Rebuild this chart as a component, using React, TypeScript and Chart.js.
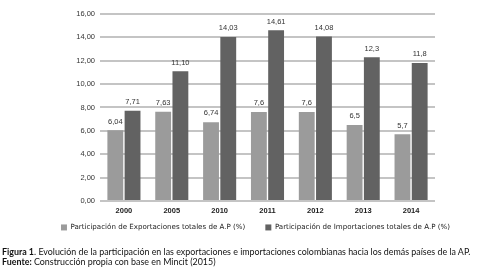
import React, { useEffect, useRef } from "react";
import { Chart, registerables } from "chart.js";

Chart.register(...registerables);

const categories = ["2000", "2005", "2010", "2011", "2012", "2013", "2014"];
const exportValues = [6.04, 7.63, 6.74, 7.6, 7.6, 6.5, 5.7];
const importValues = [7.71, 11.1, 14.03, 14.61, 14.08, 12.3, 11.8];
const exportLabels = ["6,04", "7,63", "6,74", "7,6", "7,6", "6,5", "5,7"];
const importLabels = ["7,71", "11,10", "14,03", "14,61", "14,08", "12,3", "11,8"];
const seriesNames = [
  "Participación de Exportaciones totales de A.P (%)",
  "Participación de Importaciones totales de A.P (%)",
];

const FONT = "'Liberation Sans', Arial, sans-serif";
const LEGEND_FONT = "'DejaVu Sans', Verdana, sans-serif";

const valueLabelPlugin = {
  id: "valueLabels",
  afterLayout(chart: any) {
    const lg = chart.legend;
    if (lg) {
      lg.top -= 15;
      lg.bottom -= 15;
    }
  },
  afterDatasetsDraw(chart: any) {
    const ctx = chart.ctx;
    const labelSets = [exportLabels, importLabels];
    ctx.save();
    ctx.font = `7.5px ${FONT}`;
    ctx.fillStyle = "#333";
    ctx.textAlign = "center";
    ctx.textBaseline = "bottom";
    chart.data.datasets.forEach((_ds: any, i: number) => {
      const meta = chart.getDatasetMeta(i);
      meta.data.forEach((bar: any, j: number) => {
        ctx.fillText(labelSets[i][j], bar.x, bar.y - 5);
      });
    });
    ctx.restore();
  },
};

export default function App() {
  const ref = useRef<HTMLCanvasElement>(null);
  useEffect(() => {
    document.body.style.margin = "0";
    const chart = new Chart(ref.current!, {
      type: "bar",
      data: {
        labels: categories,
        datasets: [
          {
            label: seriesNames[0],
            data: exportValues,
            backgroundColor: "#9b9b9b",
            categoryPercentage: 0.72,
            barPercentage: 0.92,
          },
          {
            label: seriesNames[1],
            data: importValues,
            backgroundColor: "#626262",
            categoryPercentage: 0.72,
            barPercentage: 0.92,
          },
        ],
      },
      options: {
        animation: false,
        responsive: false,
        layout: { padding: { left: 34, right: 0, top: 14, bottom: 22 } },
        plugins: {
          tooltip: { enabled: false },
          legend: {
            position: "bottom",
            labels: {
              boxWidth: 6,
              boxHeight: 6,
              padding: 20,
              color: "#222",
              font: { family: LEGEND_FONT, size: 7.1 },
            },
          },
        },
        scales: {
          x: {
            grid: { display: false, drawTicks: false },
            border: { display: false },
            ticks: {
              color: "#222",
              font: { family: FONT, size: 7.5, weight: "bold" },
              padding: 6,
            },
            afterFit(scale: any) {
              scale.height = 18;
            },
          },
          y: {
            min: 0,
            max: 16,
            grid: { color: "#c4c4c4", lineWidth: 2, drawTicks: false },
            border: { display: false },
            ticks: {
              stepSize: 2,
              padding: 5,
              color: "#333",
              font: { family: FONT, size: 7.5 },
              callback: (v: any) => Number(v).toFixed(2).replace(".", ","),
            },
            afterFit(scale: any) {
              scale.width = 66;
            },
          },
          yRight: {
            position: "right",
            min: 0,
            max: 16,
            grid: { display: false },
            border: { display: false },
            ticks: { display: false },
            afterFit(scale: any) {
              scale.width = 42;
            },
          },
        },
      },
      plugins: [valueLabelPlugin],
    });
    return () => chart.destroy();
  }, []);

  const cap: React.CSSProperties = {
    position: "absolute",
    left: 2,
    fontFamily: "Lato, sans-serif",
    fontSize: 8.9,
    color: "#111",
    whiteSpace: "nowrap",
    lineHeight: "10px",
  };
  return (
    <div style={{ position: "relative", width: 477, height: 278, background: "#fff" }}>
      <canvas ref={ref} width={477} height={278} style={{ display: "block" }} />
      <div style={{ ...cap, top: 247 }}>
        <b>Figura 1</b>. Evolución de la participación en las exportaciones e importaciones colombianas hacia los demás países de la AP.
      </div>
      <div style={{ ...cap, top: 257 }}>
        <b>Fuente:</b> Construcción propia con base en Mincit (2015)
      </div>
    </div>
  );
}
